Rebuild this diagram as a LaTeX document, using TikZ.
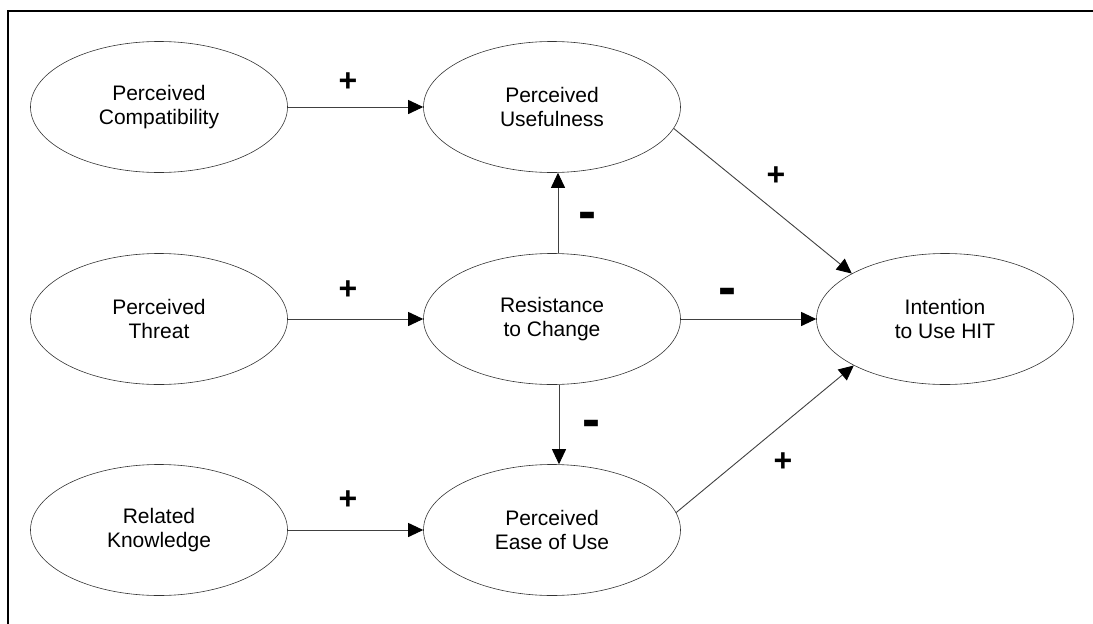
\documentclass[tikz,border=0pt]{standalone}
\usepackage{fontspec}
\setmainfont{Liberation Sans}
\usetikzlibrary{shapes.geometric,arrows.meta}

\begin{document}
\begin{tikzpicture}[x=1pt,y=-1pt,
  construct/.style={ellipse,draw=black!80,line width=0.6pt,minimum width=257pt,
    minimum height=131pt,inner sep=0pt,align=center,
    font=\fontsize{21}{23.5}\selectfont},
  link/.style={draw=black!75,line width=0.9pt,
    -{Triangle[length=15pt,width=14pt,color=black,fill=black]}},
  possign/.style={font=\fontsize{32}{32}\bfseries},
  negsign/.style={font=\fontsize{54}{54}\bfseries,inner sep=0pt}]
\useasboundingbox (0,0) rectangle (1093,624);

% frame
\draw[line width=2pt] (8,624) -- (8,11) -- (1093,11);

% constructs
\node[construct] (pc) at (159,107) {Perceived\\Compatibility};
\node[construct] (pu) at (552,107) {Perceived\\Usefulness};
\node[construct] (pt) at (159,319) {Perceived\\Threat};
\node[construct] (rc) at (552,319) {Resistance\\to Change};
\node[construct] (rk) at (159,530) {Related\\Knowledge};
\node[construct] (pe) at (552,530) {Perceived\\Ease of Use};
\node[construct] (iu) at (945,319) {Intention\\to Use HIT};

% paths
\draw[link] (pc.east) -- (pu.west);
\draw[link] (pt.east) -- (rc.west);
\draw[link] (rk.east) -- (pe.west);
\draw[link] ([xshift=6pt]rc.north) -- ([xshift=6pt]pu.south);
\draw[link] ([xshift=7pt]rc.south) -- ([xshift=7pt]pe.north);
\draw[link] (rc.east) -- (iu.west);
\draw[link] (pu.-10) -- (iu.154.6);
\draw[link] (pe.8.5) -- (iu.207.5);

% signs
\node[possign] (s1) at (348,82) {+};
\node[possign] (s2) at (348,290) {+};
\node[possign] (s3) at (348,500) {+};
\node[possign] (s4) at (776,176) {+};
\node[possign] (s5) at (783,462) {+};
\node[negsign] (s6) at (587,221) {-};
\node[negsign] (s7) at (727,297) {-};
\node[negsign] (s8) at (591,429) {-};
\end{tikzpicture}
\end{document}
